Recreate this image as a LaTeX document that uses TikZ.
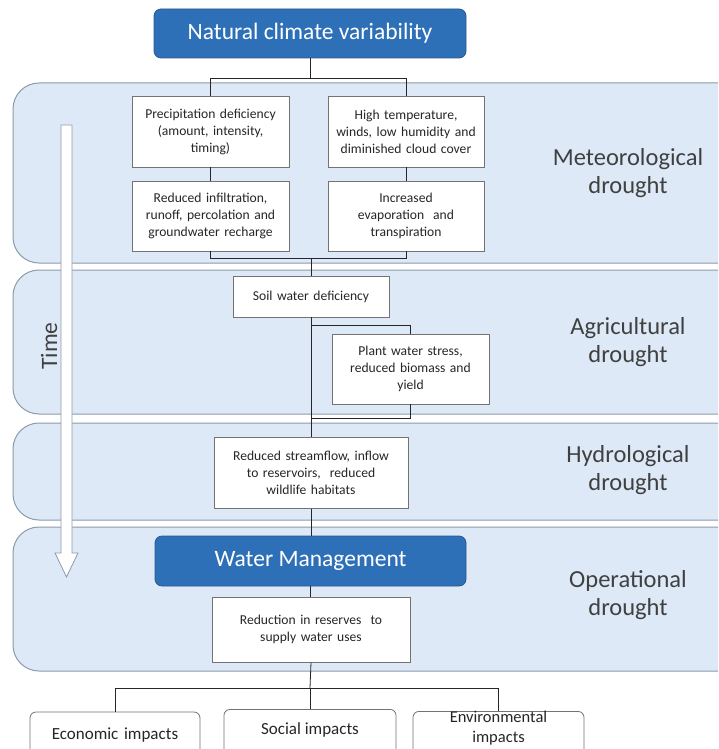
\documentclass[tikz,border=0pt]{standalone}
\usepackage{fontspec}
\setmainfont{Carlito}
\definecolor{bandfill}{HTML}{DDE9F7}
\definecolor{banddraw}{HTML}{8E9BAA}
\definecolor{bluebox}{HTML}{2E70B8}
\definecolor{blueedge}{HTML}{28598E}
\definecolor{txt}{HTML}{262626}
\definecolor{lbl}{HTML}{404040}
\begin{document}
\begin{tikzpicture}[x=1pt,y=-1pt,
  band/.style={draw=banddraw,fill=bandfill,line width=1pt,rounded corners=26pt},
  boxA/.style={draw=black!55,fill=white,line width=0.8pt,inner sep=0pt,align=center,text=txt,
    font=\fontsize{13.6}{17}\selectfont},
  bluebx/.style={draw=blueedge,fill=bluebox,line width=0.8pt,rounded corners=7pt,inner sep=0pt,
    text=white,font=\fontsize{23.5}{26}\selectfont},
  impact/.style={draw=black!55,fill=white,line width=0.8pt,rounded corners=6pt,inner sep=0pt,align=center,text=txt,
    font=\fontsize{17}{22}\selectfont},
  bandlbl/.style={align=center,text=lbl,font=\fontsize{24.5}{28}\selectfont},
  conn/.style={draw=black!85,line width=0.8pt}]
\useasboundingbox (0,0) rectangle (718,749);
\clip (0,0) rectangle (718,749);
\fill[white] (0,0) rectangle (718,749);
% bands
\draw[band] (13,83) rectangle (760,263);
\draw[band] (13,270) rectangle (760,414);
\draw[band] (13,423) rectangle (760,520);
\draw[band] (13,527) rectangle (760,671);
% band labels
\node[bandlbl] (lmet) at (628,173) {Meteorological\\drought};
\node[bandlbl] (lagr) at (628,342) {Agricultural\\drought};
\node[bandlbl] (lhyd) at (628,470) {Hydrological\\drought};
\node[bandlbl] (lope) at (628,595) {Operational\\drought};
% time arrow
\draw[draw=banddraw,fill=white,line width=0.8pt] (61,125) -- (72,125) -- (72,553) -- (78,553) -- (66.5,577) -- (55,553) -- (61,553) -- cycle;
\node[rotate=90,text=lbl,font=\fontsize{23.5}{26}\selectfont] (time) at (49,346) {Time};
% nodes
\node[bluebx,minimum width=312pt,minimum height=49pt] (ncv) at (310,33.5) {Natural climate variability};
\node[boxA,minimum width=157pt,minimum height=71pt,text width=154pt] (p1) at (210.5,131.5) {Precipitation deficiency\\(amount, intensity,\\timing)};
\node[boxA,minimum width=156pt,minimum height=71pt,text width=154pt] (p2) at (406,131.5) {High temperature,\\winds, low humidity and\\diminished cloud cover};
\node[boxA,minimum width=157pt,minimum height=70pt,text width=154pt] (p3) at (210.5,216) {Reduced infiltration,\\runoff, percolation and\\groundwater recharge};
\node[boxA,minimum width=156pt,minimum height=70pt,text width=154pt] (p4) at (406,216) {Increased\\evaporation\ \ and\\transpiration};
\node[boxA,minimum width=156pt,minimum height=41pt,text width=154pt] (soil) at (311,296.5) {Soil water deficiency};
\node[boxA,minimum width=157pt,minimum height=70pt,text width=154pt] (plant) at (410.5,369) {Plant water stress,\\reduced biomass and\\yield};
\node[boxA,minimum width=194pt,minimum height=71pt,text width=190pt] (stream) at (311,473) {Reduced streamflow, inflow\\to reservoirs,\ \ reduced\\wildlife habitats};
\node[bluebx,minimum width=311pt,minimum height=50pt] (wm) at (310.5,561) {Water Management};
\node[boxA,minimum width=198pt,minimum height=65pt,text width=190pt] (red) at (311,629.5) {Reduction in reserves\ \ to\\supply water uses};
\node[impact,minimum width=170pt,minimum height=46pt,text width=168pt] (eco) at (115,735) {Economic impacts};
\node[impact,minimum width=172pt,minimum height=48pt,text width=168pt,anchor=north] (soc) at (310,709) {};
\node[font=\fontsize{17}{22}\selectfont,text=txt] (soct) at (310,730) {Social impacts};
\node[impact,minimum width=171pt,minimum height=46pt,text width=168pt,anchor=north] (env) at (498.5,711) {};
\node[font=\fontsize{16.5}{20}\selectfont,text=txt,align=center] (envt) at (498.5,728.5) {Environmental\\impacts};
% connectors
\coordinate (tb) at (310,78);
\coordinate (bb) at (311,258);
\coordinate (pt) at (311,325);
\coordinate (pb) at (311,418);
\coordinate (ib) at (310,688);
\draw[conn] (ncv.south) -- (tb);
\draw[conn] (p1.north) -- (p1.north |- tb) -- (p2.north |- tb) -- (p2.north);
\draw[conn] (p1.south) -- (p3.north);
\draw[conn] (p2.south) -- (p4.north);
\draw[conn] (p3.south) -- (p3.south |- bb) -- (p4.south |- bb) -- (p4.south);
\draw[conn] (bb) -- (soil.north);
\draw[conn] (soil.south) -- (soil.south |- stream.north);
\draw[conn] (pt) -- (plant.north |- pt) -- (plant.north);
\draw[conn] (plant.south) -- (plant.south |- pb) -- (pb);
\draw[conn] (stream.south) -- (stream.south |- wm.north);
\draw[conn] (wm.south) -- (wm.south |- red.north);
\draw[conn] (red.south) -- (ib);
\draw[conn] (eco.north) -- (eco.north |- ib) -- (env.north |- ib) -- (env.north);
\draw[conn] (ib) -- (soc.north);
\end{tikzpicture}
\end{document}
